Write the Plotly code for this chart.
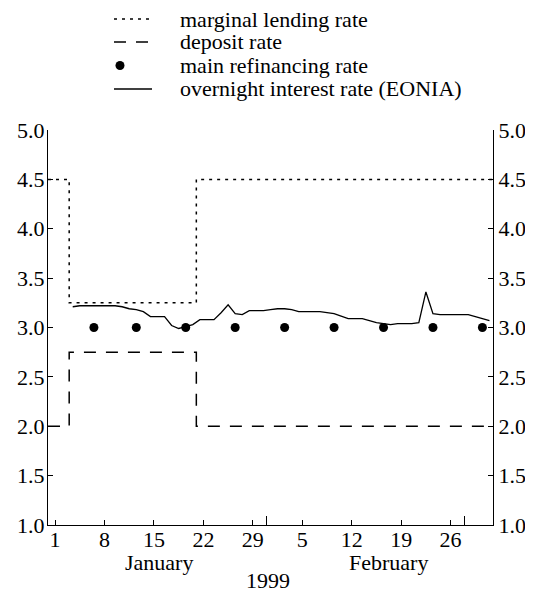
import plotly.graph_objects as go
import pandas as pd

# Policy corridor (step changes)
corridor_dates = ["1998-12-31 12:00", "1999-01-03 12:00", "1999-01-21 12:00", "1999-03-04 12:00"]
marginal_rate = [4.5, 3.25, 4.5, 4.5]
deposit_rate = [2.0, 2.75, 2.0, 2.0]

# Main refinancing operations
mro_dates = ["1999-01-07", "1999-01-13", "1999-01-20", "1999-01-27", "1999-02-03",
             "1999-02-10", "1999-02-17", "1999-02-24", "1999-03-03"]
mro_rate = [3.0, 3.0, 3.0, 3.0, 3.0, 3.0, 3.0, 3.0, 3.0]

# EONIA, calendar-daily from 4 Jan to 4 Mar 1999
eonia_dates = pd.date_range("1999-01-04", "1999-03-04", freq="D")
eonia_rate = [3.21, 3.22, 3.22, 3.22, 3.22, 3.22, 3.22,          # Jan 4-10
              3.21, 3.19, 3.18, 3.16, 3.11, 3.11, 3.11,          # Jan 11-17
              3.02, 2.99, 3.01, 3.03, 3.08, 3.08, 3.08,          # Jan 18-24
              3.15, 3.23, 3.14, 3.13, 3.17, 3.17, 3.17,          # Jan 25-31
              3.18, 3.19, 3.19, 3.18, 3.16, 3.16, 3.16,          # Feb 1-7
              3.16, 3.15, 3.14, 3.115, 3.09, 3.09, 3.09,         # Feb 8-14
              3.07, 3.05, 3.04, 3.03, 3.04, 3.04, 3.04,          # Feb 15-21
              3.05, 3.36, 3.14, 3.13, 3.13, 3.13, 3.13,          # Feb 22-28
              3.13, 3.11, 3.09, 3.07]                            # Mar 1-4

series_names = ["marginal lending rate", "deposit rate", "main refinancing rate",
                "overnight interest rate (EONIA)"]

tick_dates = ["1999-01-01 12:00", "1999-01-08 12:00", "1999-01-15 12:00", "1999-01-22 12:00",
              "1999-01-29 12:00", "1999-02-05 12:00", "1999-02-12 12:00", "1999-02-19 12:00",
              "1999-02-26 12:00"]
tick_labels = ["1", "8", "15", "22", "29", "5", "12", "19", "26"]
month_ticks = ["1999-01-31 12:00", "1999-02-28 12:00"]
month_labels = ["January", "February"]
month_label_pos = ["1999-01-16 06:00", "1999-02-17 18:00"]
y_ticks = [1.0, 1.5, 2.0, 2.5, 3.0, 3.5, 4.0, 4.5, 5.0]
y_labels = ["%.1f" % v for v in y_ticks]

FONT = "Liberation Serif, Times New Roman, serif"
FS = 22
# page has an 8px body margin; figure sized so the plot lands at page px 48..493 / 130..525
OFF = 8
W, H = 533 - OFF, 592 - OFF
ML, MR, MT, MB = 48 - OFF, 40, 130 - OFF, 67
PW, PH = W - ML - MR, H - MT - MB

DOT = "3px,5px"
DASH = "12px,10px"

fig = go.Figure()
fig.add_trace(go.Scatter(x=corridor_dates, y=marginal_rate, mode="lines", line_shape="hv",
                         line=dict(color="black", width=1.5, dash=DOT),
                         name=series_names[0]))
fig.add_trace(go.Scatter(x=corridor_dates, y=deposit_rate, mode="lines", line_shape="hv",
                         line=dict(color="black", width=1.5, dash=DASH),
                         name=series_names[1]))
fig.add_trace(go.Scatter(x=mro_dates, y=mro_rate, mode="markers", yaxis="y2",
                         marker=dict(color="black", size=9),
                         name=series_names[2]))
fig.add_trace(go.Scatter(x=eonia_dates, y=eonia_rate, mode="lines",
                         line=dict(color="black", width=1.3),
                         name=series_names[3]))

axis_common = dict(showline=True, linecolor="black", linewidth=1, ticks="inside",
                   tickcolor="black", ticklen=5, showgrid=False, zeroline=False,
                   automargin=False,
                   tickfont=dict(family=FONT, size=FS, color="black"))

fig.update_layout(
    width=W, height=H,
    margin=dict(l=ML, r=MR, t=MT, b=MB),
    paper_bgcolor="white", plot_bgcolor="white",
    font=dict(family=FONT, size=FS, color="black"),
    showlegend=False,
    xaxis=dict(type="date", range=["1998-12-31 12:00", "1999-03-04 12:00"],
               tickmode="array", tickvals=tick_dates, ticktext=tick_labels,
               ticklabelstandoff=-5,
               minor=dict(tickmode="array", tickvals=month_ticks, ticks="inside",
                          ticklen=9, tickcolor="black", showgrid=False),
               **axis_common),
    yaxis=dict(range=[1, 5], tickmode="array", tickvals=y_ticks, ticktext=y_labels,
               ticklabelstandoff=-2, **axis_common),
    yaxis2=dict(range=[1, 5], overlaying="y", side="right", matches="y",
                tickmode="array", tickvals=y_ticks, ticktext=y_labels,
                ticklabelstandoff=0, **axis_common),
)

for lbl, pos in zip(month_labels, month_label_pos):
    fig.add_annotation(x=pos, xref="x", y=0, yref="paper", text=lbl, showarrow=False,
                       yanchor="middle", yshift=-37, font=dict(family=FONT, size=FS))
fig.add_annotation(x=0.494, xref="paper", y=0, yref="paper", text="1999", showarrow=False,
                   yanchor="middle", yshift=-55, font=dict(family=FONT, size=FS))

# Hand-drawn legend (key samples + labels), positioned in page pixels
def px_x(p):
    return (p - OFF - ML) / PW

def px_y(p):
    return (H - MB - (p - OFF)) / PH

row_y = [19, 42, 65.5, 89]
key_x0, key_x1, text_x = 114, 152, 178
styles = [DOT, DASH, None, "solid"]
for name, ry, st in zip(series_names, row_y, styles):
    if st is None:
        r = 4.5
        fig.add_shape(type="circle", xref="paper", yref="paper",
                      x0=px_x(120 - r), x1=px_x(120 + r), y0=px_y(ry + r), y1=px_y(ry - r),
                      fillcolor="black", line=dict(color="black", width=0))
    else:
        fig.add_shape(type="line", xref="paper", yref="paper",
                      x0=px_x(key_x0), x1=px_x(key_x1), y0=px_y(ry), y1=px_y(ry),
                      line=dict(color="black", width=1.5 if st != "solid" else 1.3, dash=st))
    fig.add_annotation(x=px_x(text_x), xref="paper", y=px_y(ry), yref="paper", text=name,
                       showarrow=False, xanchor="left", yanchor="middle",
                       font=dict(family=FONT, size=FS, color="black"))

fig.write_html("out.html")
